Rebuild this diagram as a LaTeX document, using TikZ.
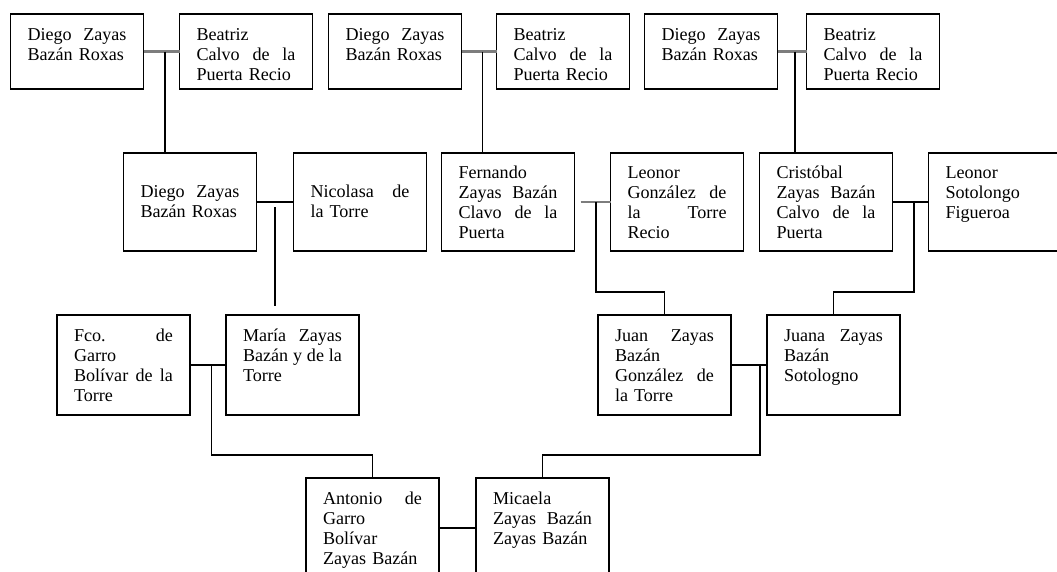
\documentclass[tikz,border=0pt]{standalone}
\usepackage{fontspec}
\setmainfont{Liberation Serif}
\usepackage{tikz}
\usetikzlibrary{positioning,calc}
\definecolor{couplegray}{RGB}{125,125,125}

\begin{document}
\begin{tikzpicture}[
    person/.style={draw, line width=0.75pt, text width=1.98cm, align=left, inner xsep=0.34cm, inner ysep=0pt, outer sep=0pt, font=\fontsize{10.3}{11.4}\selectfont},
    toprow/.style={person, text height=0.52cm, text depth=0.98cm},
    midrow/.style={person, text height=0.5cm, text depth=1.46cm},
    midlow/.style={person, text height=0.88cm, text depth=1.08cm},
    lowrow/.style={person, text height=0.52cm, text depth=1.48cm},
    link/.style={draw, line width=0.8pt},
    couple/.style={draw=couplegray, line width=1.2pt}
]
    \useasboundingbox (0,0) rectangle (21.14,-11.42);
    \clip (0,0) rectangle (21.14,-11.42);

    % Great-grandparents
    \node[toprow] (dz1) at (1.54,-1.03) {Diego\hfill Zayas\\Bazán Roxas};
    \node[toprow, right=0.72cm of dz1] (bc1) {Beatriz\\Calvo\hfill de\hfill la\\Puerta Recio};
    \node[toprow, right=0.32cm of bc1] (dz2) {Diego\hfill Zayas\\Bazán Roxas};
    \node[toprow, right=0.70cm of dz2] (bc2) {Beatriz\\Calvo\hfill de\hfill la\\Puerta Recio};
    \node[toprow, right=0.30cm of bc2] (dz3) {Diego\hfill Zayas\\Bazán Roxas};
    \node[toprow, right=0.58cm of dz3] (bc3) {Beatriz\\Calvo\hfill de\hfill la\\Puerta Recio};

    % Grandparents
    \node[midlow] (dz4) at (3.80,-4.04) {Diego\hfill Zayas\\Bazán Roxas};
    \node[midlow, right=0.74cm of dz4] (nt) {Nicolasa\hfill de\\la Torre};
    \node[midrow, right=0.30cm of nt] (fz) {Fernando\\Zayas\hfill Bazán\\Clavo\hfill de\hfill la\\Puerta};
    \node[midrow, right=0.72cm of fz] (lg) {Leonor\\González\hfill de\\la\hfill Torre\\Recio};
    \node[midrow, right=0.32cm of lg] (cz) {Cristóbal\\Zayas\hfill Bazán\\Calvo\hfill de\hfill la\\Puerta};
    \node[midrow, right=0.72cm of cz] (ls) {Leonor\\Sotolongo\\Figueroa};

    % Parents
    \node[lowrow] (fg) at (2.47,-7.30) {Fco.\hfill de\\Garro\\Bolívar\hfill de\hfill la\\Torre};
    \node[lowrow, right=0.72cm of fg] (mz) {María\hfill Zayas\\Bazán\hfill y\hfill de\hfill la\\Torre};
    \node[lowrow] (jz) at (13.29,-7.30) {Juan\hfill Zayas\\Bazán\\González\hfill de\\la Torre};
    \node[lowrow, right=0.72cm of jz] (jzs) {Juana\hfill Zayas\\Bazán\\Sotologno};

    % Couple
    \node[lowrow] (ag) at (7.45,-10.56) {Antonio\hfill de\\Garro\\Bolívar\\Zayas Bazán};
    \node[lowrow, right=0.74cm of ag] (mc) {Micaela\\Zayas\hfill Bazán\\Zayas Bazán};

    % Marriage points
    \coordinate (m1) at ($(dz1.east)!0.6!(bc1.west)$);
    \coordinate (m2) at ($(dz2.east)!0.6!(bc2.west)$);
    \coordinate (m3) at ($(dz3.east)!0.6!(bc3.west)$);
    \coordinate (m4) at ($(dz4.east)!0.5!(nt.west)$);
    \coordinate (m5) at ($(fz.east)!0.6!(lg.west)$);
    \coordinate (m6) at ($(cz.east)!0.6!(ls.west)$);
    \coordinate (m7) at ($(fg.east)!0.6!(mz.west)$);
    \coordinate (m8) at ($(jz.east)!0.8!(jzs.west)$);

    \draw[couple] (dz1) -- (bc1);
    \draw[couple] (dz2) -- (bc2);
    \draw[couple] (dz3) -- (bc3);
    \draw[link] (dz4) -- (nt);
    \draw[couple, shorten <=0.12cm] (fz) -- (lg);
    \draw[link] (cz) -- (ls);
    \draw[link] (fg) -- (mz);
    \draw[link] (jz) -- (jzs);
    \draw[link] (ag) -- (mc);

    % Descent lines
    \draw[link] (m1) -- (m1 |- dz4.north);
    \draw[link] (m2) -- (m2 |- fz.north);
    \draw[link] (m3) -- (m3 |- cz.north);
    \draw[link, shorten <=0.1cm, shorten >=0.18cm] (m4) -- (m4 |- mz.north);
    \draw[link] (m5) |- ($(jz.north)+(0,0.46)$) -- (jz.north);
    \draw[link] (m6) |- ($(jzs.north)+(0,0.46)$) -- (jzs.north);
    \draw[link] (m7) |- ($(ag.north)+(0,0.46)$) -- (ag.north);
    \draw[link] (m8) |- ($(mc.north)+(0,0.46)$) -- (mc.north);

\end{tikzpicture}
\end{document}
